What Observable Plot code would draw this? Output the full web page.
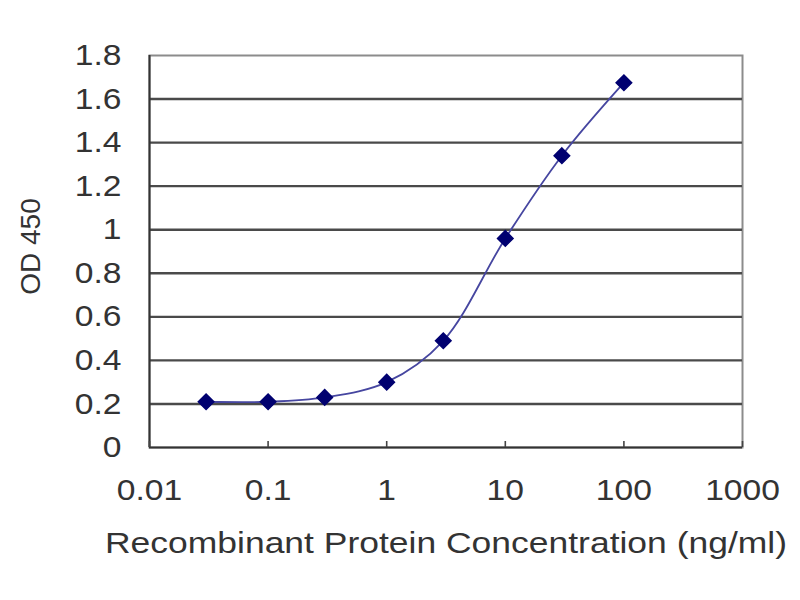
<!DOCTYPE html>
<html>
<head>
<meta charset="utf-8">
<script src="https://cdn.jsdelivr.net/npm/d3@7"></script>
<script src="https://cdn.jsdelivr.net/npm/@observablehq/plot@0.6"></script>
<style>
  html, body { margin: 0; padding: 0; background: #fff; }
  #chart { width: 800px; height: 600px; }
</style>
</head>
<body>
<div id="chart"></div>
<script>
const concentrations = [0.03, 0.1, 0.3, 1, 3, 10, 30, 100];
const odValues = [0.21, 0.21, 0.23, 0.30, 0.49, 0.96, 1.34, 1.675];
const xTicks = [0.01, 0.1, 1, 10, 100, 1000];
const xTickLabels = ["0.01", "0.1", "1", "10", "100", "1000"];
const yTicks = [0, 0.2, 0.4, 0.6, 0.8, 1, 1.2, 1.4, 1.6, 1.8];
const yTickLabels = ["0", "0.2", "0.4", "0.6", "0.8", "1", "1.2", "1.4", "1.6", "1.8"];
const gridValues = [0.2, 0.4, 0.6, 0.8, 1, 1.2, 1.4, 1.6];
const xLabel = "Recombinant Protein Concentration (ng/ml)";
const yLabel = "OD 450";

const data = concentrations.map((c, i) => ({c, od: odValues[i]}));

const W = 800, H = 600, mT = 55, mB = 153, mL = 149, mR = 58;
const txt = "#333";
const fs = 30;

const chart = Plot.plot({
  width: W,
  height: H,
  marginTop: mT,
  marginBottom: mB,
  marginLeft: mL,
  marginRight: mR,
  style: {fontFamily: "'Liberation Sans', Arial, sans-serif", fontSize: fs + "px", color: txt, background: "#fff"},
  x: {type: "log", domain: [0.01, 1000], axis: null},
  y: {domain: [0, 1.8], axis: null},
  marks: [
    Plot.frame({stroke: "#8c8c8c", strokeWidth: 2}),
    Plot.ruleY(gridValues, {stroke: "#4a4a4a", strokeWidth: 2.4}),
    Plot.ruleY([0], {stroke: "#333", strokeWidth: 2}),
    Plot.ruleX([0.01], {stroke: "#333", strokeWidth: 2}),
    Plot.ruleX(xTicks, {stroke: "#444", strokeWidth: 1.6, insetTop: H - mT - mB - 6}),
    Plot.text(xTicks, {x: d => d, text: (d, i) => xTickLabels[i], frameAnchor: "bottom", lineAnchor: "top", dy: 31, fontSize: fs, fill: txt}),
    Plot.text(yTicks, {y: d => d, text: (d, i) => yTickLabels[i], frameAnchor: "left", textAnchor: "end", dx: -28, fontSize: fs, fill: txt}),
    Plot.text([xLabel], {frameAnchor: "bottom", lineAnchor: "top", dy: 84, fontSize: fs, fill: txt}),
    Plot.text([yLabel], {frameAnchor: "left", textAnchor: "middle", dx: -118, dy: -5, rotate: -90, fontSize: 28, fill: txt}),
    Plot.line(data, {x: "c", y: "od", curve: "catmull-rom", stroke: "#4646a0", strokeWidth: 1.8}),
    Plot.dot(data, {x: "c", y: "od", symbol: "diamond2", r: 7, fill: "#000070", stroke: "#000070"})
  ]
});
document.getElementById("chart").appendChild(chart);

// horizontal stretch of the texts, as in the reference image
d3.select(chart).selectAll("text").each(function() {
  const t = this.textContent;
  if (t === yLabel) return;
  const len = this.getComputedTextLength();
  const target = t === xLabel ? 682 : len * 1.12;
  this.setAttribute("textLength", target);
  this.setAttribute("lengthAdjust", "spacingAndGlyphs");
});
</script>
</body>
</html>
